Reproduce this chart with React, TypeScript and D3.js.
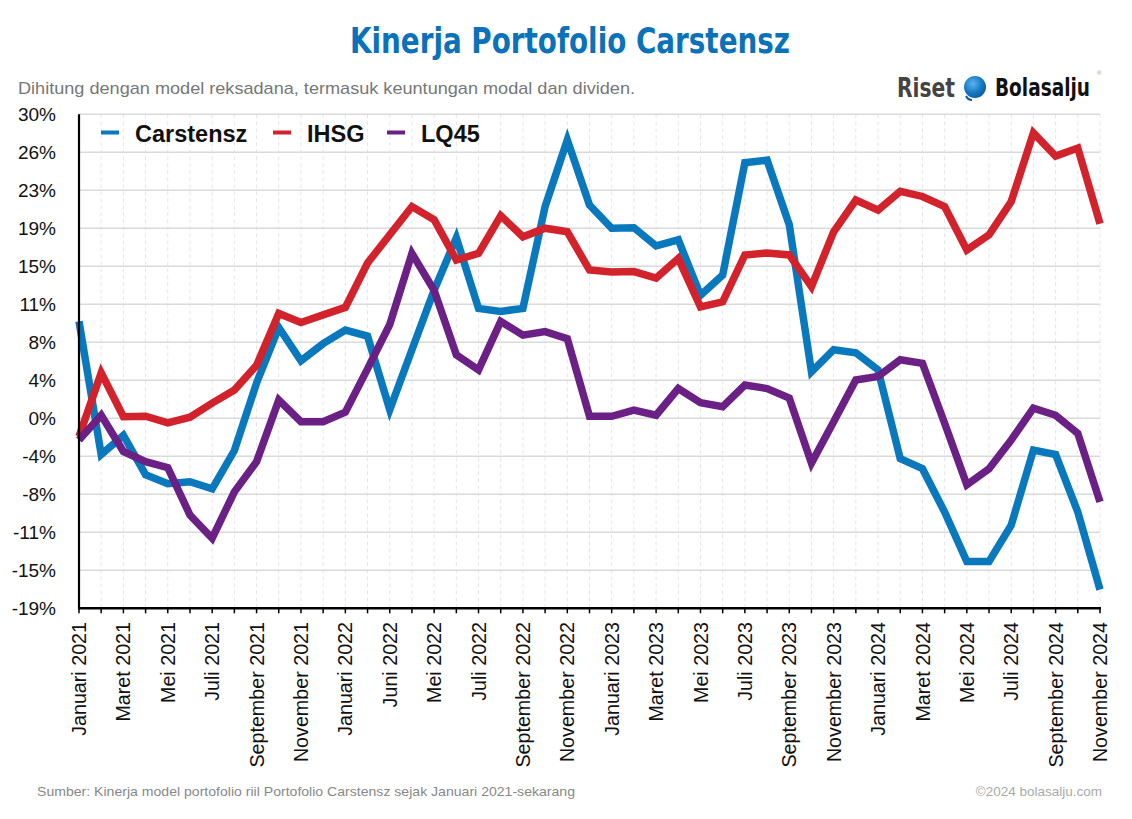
import React from "react";
import * as d3 from "d3";

const months = [
  "Januari 2021","Februari 2021","Maret 2021","April 2021","Mei 2021","Juni 2021","Juli 2021","Agustus 2021","September 2021","Oktober 2021","November 2021","Desember 2021",
  "Januari 2022","Februari 2022","Juni 2022","April 2022","Mei 2022","Juni 2022","Juli 2022","Agustus 2022","September 2022","Oktober 2022","November 2022","Desember 2022",
  "Januari 2023","Februari 2023","Maret 2023","April 2023","Mei 2023","Juni 2023","Juli 2023","Agustus 2023","September 2023","Oktober 2023","November 2023","Desember 2023",
  "Januari 2024","Februari 2024","Maret 2024","April 2024","Mei 2024","Juni 2024","Juli 2024","Agustus 2024","September 2024","Oktober 2024","November 2024",
];

const carstensz = [9.6, -3.6, -1.7, -5.6, -6.5, -6.3, -7.0, -3.2, 3.5, 9.0, 5.7, 7.4, 8.75, 8.15, 0.85, 6.8, 12.7, 17.9, 10.9, 10.6, 10.9, 21.0, 27.6, 21.15, 18.85, 18.9, 17.1, 17.7, 12.2, 14.2, 25.35, 25.6, 19.2, 4.6, 6.8, 6.5, 4.8, -4.0, -5.0, -9.3, -14.2, -14.2, -10.6, -3.15, -3.6, -9.3, -17.0];
const ihsg = [-1.8, 4.5, 0.15, 0.2, -0.45, 0.1, 1.5, 2.8, 5.25, 10.4, 9.5, 10.25, 11.0, 15.4, 18.2, 21.0, 19.7, 15.7, 16.35, 20.1, 18.0, 18.85, 18.5, 14.7, 14.5, 14.55, 13.9, 15.85, 11.05, 11.55, 16.2, 16.4, 16.2, 13.05, 18.5, 21.65, 20.65, 22.5, 22.0, 21.0, 16.7, 18.2, 21.5, 28.3, 26.0, 26.8, 19.3];
const lq45 = [-2.15, 0.3, -3.3, -4.3, -4.9, -9.6, -11.9, -7.3, -4.3, 1.8, -0.35, -0.35, 0.6, 4.9, 9.3, 16.35, 12.7, 6.3, 4.8, 9.6, 8.25, 8.6, 7.9, 0.2, 0.2, 0.8, 0.3, 2.95, 1.55, 1.15, 3.3, 2.95, 2.0, -4.45, -0.35, 3.8, 4.15, 5.8, 5.45, -0.5, -6.6, -5.0, -2.15, 1.0, 0.3, -1.5, -8.3];

const seriesNames = ["Carstensz", "IHSG", "LQ45"];
const seriesColors = ["#0a78bd", "#d2232d", "#6b2085"];
const yMin = -18.85;
const yMax = 30.15;
const yTickCount = 14;

const W = 1132;
const H = 819;
const left = 79;
const right = 1100;
const top = 114.3;
const bottom = 608.3;

const FONT = "'Liberation Sans', Arial, Helvetica, sans-serif";
const NARROW = "'Liberation Sans Narrow', 'DejaVu Sans Condensed', 'Roboto Condensed', sans-serif";

export default function App() {
  const x = d3.scaleLinear().domain([0, months.length - 1]).range([left, right]);
  const y = d3.scaleLinear().domain([yMin, yMax]).range([bottom, top]);
  const yTicks = d3.range(yTickCount).map((k) => yMin + (k * (yMax - yMin)) / (yTickCount - 1));
  const data = [carstensz, ihsg, lq45];
  const line = d3
    .line<number>()
    .x((_, i) => x(i))
    .y((d) => y(d));
  const legendX = [101, 273, 387];

  return (
    <svg width={W} height={H} style={{ position: "absolute", left: 0, top: 0, background: "#fff" }} fontFamily={FONT}>
      <defs>
        <radialGradient id="ball" cx="0.4" cy="0.35" r="0.7">
          <stop offset="0" stopColor="#5fb3ea" />
          <stop offset="0.6" stopColor="#1479c4" />
          <stop offset="1" stopColor="#0b5a9e" />
        </radialGradient>
      </defs>
      <rect x={0} y={0} width={W} height={H} fill="#fff" />
      {/* title */}
      <text
        x={570}
        y={53}
        textAnchor="middle"
        fontFamily={NARROW}
        fontWeight="bold"
        fontSize={36}
        fill="#0b72b9"
        textLength={440}
        lengthAdjust="spacingAndGlyphs"
      >
        Kinerja Portofolio Carstensz
      </text>
      <text x={18} y={94} fontSize={17} fill="#777" textLength={617} lengthAdjust="spacingAndGlyphs">
        Dihitung dengan model reksadana, termasuk keuntungan modal dan dividen.
      </text>
      {/* logo */}
      <text x={897} y={97} fontFamily={NARROW} fontWeight="bold" fontSize={26} fill="#444" textLength={58} lengthAdjust="spacingAndGlyphs">
        Riset
      </text>
      <circle cx={975} cy={87} r={11} fill="url(#ball)" />
      <path d="M966,96 q2,4 6,4" stroke="#0b5a9e" strokeWidth={2} fill="none" />
      <text x={995} y={96} fontFamily={NARROW} fontWeight="bold" fontSize={24} fill="#111" textLength={95} lengthAdjust="spacingAndGlyphs">
        Bolasalju
      </text>
      <text x={1097} y={75} fontSize={6} fill="#999">®</text>

      {/* gridlines */}
      {months.map((_, i) => (
        <line key={"vg" + i} x1={x(i)} x2={x(i)} y1={top} y2={bottom} stroke="#e6e6e6" strokeWidth={1} strokeDasharray="4,3" />
      ))}
      {yTicks.map((t, k) => (
        <line key={"hg" + k} x1={left} x2={right} y1={y(t)} y2={y(t)} stroke="#dadada" strokeWidth={1.5} />
      ))}
      {/* y labels */}
      {yTicks.map((t, k) => (
        <text key={"yl" + k} x={56} y={y(t)} dy="0.36em" textAnchor="end" fontSize={19} fill="#111">
          {Math.round(t) + "%"}
        </text>
      ))}
      {/* lines */}
      {data.map((s, j) => (
        <path key={"s" + j} d={line(s) || ""} fill="none" stroke={seriesColors[j]} strokeWidth={7.5} strokeLinejoin="miter" strokeMiterlimit={4} />
      ))}
      {/* axes */}
      <line x1={left} x2={left} y1={top} y2={bottom + 1} stroke="#000" strokeWidth={2.2} />
      <line x1={left - 1} x2={right + 1} y1={bottom} y2={bottom} stroke="#000" strokeWidth={2.4} />
      {months.map((_, i) => (
        <line key={"tk" + i} x1={x(i)} x2={x(i)} y1={bottom} y2={bottom + 5} stroke="#000" strokeWidth={1.5} />
      ))}
      {months.map((m, i) =>
        i % 2 === 0 ? (
          <text
            key={"xl" + i}
            transform={`translate(${x(i)},${622}) rotate(-90)`}
            dy="0.36em"
            textAnchor="end"
            fontSize={19.7}
            fill="#111"
          >
            {m}
          </text>
        ) : null
      )}
      {/* legend */}
      {seriesNames.map((n, j) => (
        <g key={"lg" + j}>
          <line x1={legendX[j]} x2={legendX[j] + 18} y1={132.5} y2={132.5} stroke={seriesColors[j]} strokeWidth={4} />
          <text x={legendX[j] + 34} y={142} fontSize={23.5} fontWeight="bold" fill="#111">
            {n}
          </text>
        </g>
      ))}
      {/* footer */}
      <text x={37} y={796} fontSize={13} fill="#888" textLength={538} lengthAdjust="spacingAndGlyphs">
        Sumber: Kinerja model portofolio riil Portofolio Carstensz sejak Januari 2021-sekarang
      </text>
      <text x={1102} y={796} textAnchor="end" fontSize={13.5} fill="#aaa">
        ©2024 bolasalju.com
      </text>
    </svg>
  );
}
